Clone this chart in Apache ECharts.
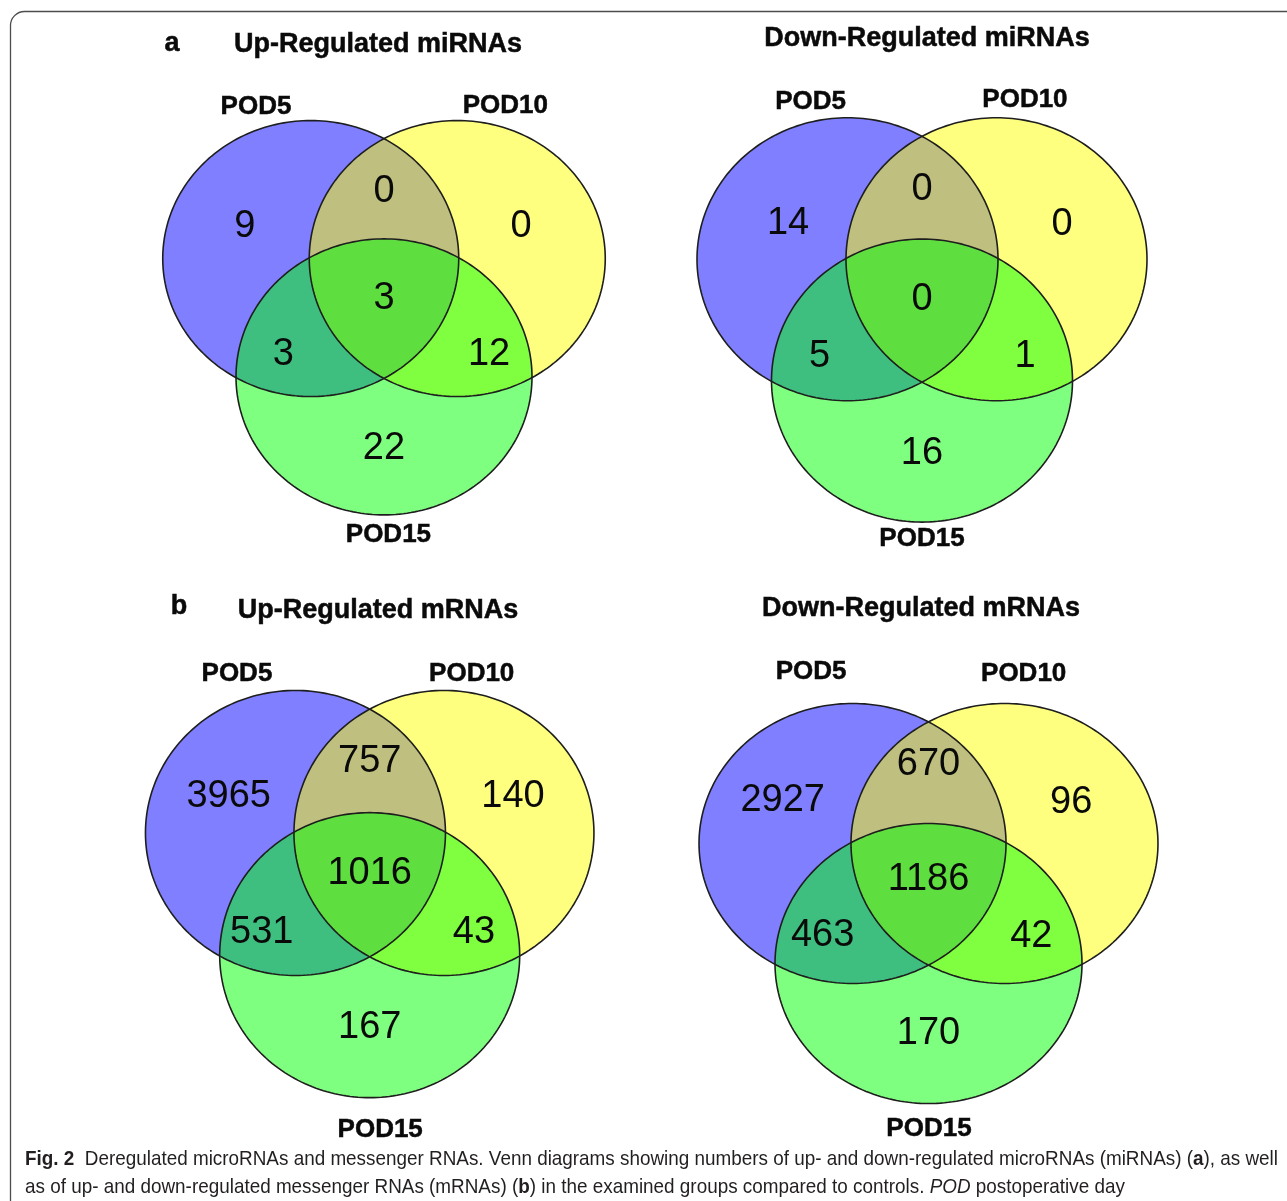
<!DOCTYPE html>
<html>
<head>
<meta charset="utf-8">
<script src="https://cdn.jsdelivr.net/npm/echarts@6/dist/echarts.min.js"></script>
<style>
  html, body { margin: 0; padding: 0; background: #ffffff; }
  #chart { width: 1287px; height: 1201px; }
</style>
</head>
<body>
<div id="chart"></div>
<script>
// ---- data ----
const setNames = ['POD5', 'POD10', 'POD15'];
const panelTitles = ['Up-Regulated miRNAs', 'Down-Regulated miRNAs', 'Up-Regulated mRNAs', 'Down-Regulated mRNAs'];
const panelLetters = ['a', '', 'b', ''];
// region counts, order: POD5 only, POD10 only, POD15 only,
// POD5∩POD10, POD5∩POD15, POD10∩POD15, all three
const upMiRNAs   = [9, 0, 22, 0, 3, 12, 3];
const downMiRNAs = [14, 0, 16, 0, 5, 1, 0];
const upMRNAs    = [3965, 140, 167, 757, 531, 43, 1016];
const downMRNAs  = [2927, 96, 170, 670, 463, 42, 1186];
const panelCounts = [upMiRNAs, downMiRNAs, upMRNAs, downMRNAs];

// ---- layout (unit space: circle radius = 1, y grows downward) ----
const side = 0.99;                       // distance between circle centres
const circleCentres = [
  [-side / 2, -side * Math.sqrt(3) / 6],
  [ side / 2, -side * Math.sqrt(3) / 6],
  [0,          side * Math.sqrt(3) / 3]
];
const fills = ['rgba(0,0,255,0.5)', 'rgba(255,255,0,0.5)', 'rgba(0,255,0,0.5)'];

const panels = [
  { cx: 384, cy: 298, rx: 148, ry: 138, title: [378, 45], letter: [172, 44],
    regions: [[-0.94,-0.52],[0.926,-0.52],[0,1.09],[0,-0.775],[-0.68,0.41],[0.71,0.41],[0,0.007]],
    names: [[-0.865,-1.385],[0.82,-1.395],[0.03,1.715]] },
  { cx: 922, cy: 299.7, rx: 150.5, ry: 141.5, title: [927, 39], letter: null,
    regions: [[-0.89,-0.535],[0.93,-0.53],[0,1.087],[0,-0.78],[-0.68,0.405],[0.684,0.405],[0,0]],
    names: [[-0.74,-1.40],[0.684,-1.415],[0,1.69]] },
  { cx: 369.7, cy: 873.7, rx: 150, ry: 142.5, title: [378, 611], letter: [179, 607],
    regions: [[-0.94,-0.54],[0.955,-0.54],[0,1.076],[0,-0.79],[-0.72,0.41],[0.695,0.41],[0,0]],
    names: [[-0.885,-1.405],[0.68,-1.405],[0.07,1.795]] },
  { cx: 928.5, cy: 883.5, rx: 153.5, ry: 140, title: [921, 609], letter: null,
    regions: [[-0.95,-0.59],[0.93,-0.58],[0,1.075],[0,-0.85],[-0.69,0.37],[0.67,0.38],[0,-0.025]],
    names: [[-0.765,-1.51],[0.62,-1.495],[0.003,1.755]] }
];

const SANS = '"Liberation Sans", Arial, Helvetica, sans-serif';

// ---- render helpers ----
function ellipsePoints(api, cx, cy, r) {
  const pts = [];
  const n = 240;
  for (let i = 0; i < n; i++) {
    const t = (i / n) * Math.PI * 2;
    pts.push(api.coord([cx + r * Math.cos(t), cy + r * Math.sin(t)]));
  }
  return pts;
}

function fillItem(params, api) {
  const k = api.value(3);
  return {
    type: 'polygon',
    shape: { points: ellipsePoints(api, api.value(0), api.value(1), api.value(2)) },
    style: { fill: fills[k], stroke: null }
  };
}

function outlineItem(params, api) {
  return {
    type: 'polygon',
    shape: { points: ellipsePoints(api, api.value(0), api.value(1), api.value(2)) },
    style: { fill: null, stroke: '#1e1e1e', lineWidth: 1.6 }
  };
}

function countItem(params, api) {
  const p = api.coord([api.value(0), api.value(1)]);
  return {
    type: 'text', x: p[0], y: p[1],
    style: {
      text: String(api.value(2)), fontSize: 38, fontFamily: SANS, fill: '#0a0a0a',
      align: 'center', verticalAlign: 'middle', textAlign: 'center', textVerticalAlign: 'middle'
    }
  };
}

function nameItem(params, api) {
  const p = api.coord([api.value(0), api.value(1)]);
  return {
    type: 'text', x: p[0], y: p[1],
    style: {
      text: setNames[api.value(2)], fontSize: 26, fontWeight: 'bold', fontFamily: SANS, fill: '#0a0a0a',
      stroke: '#0a0a0a', lineWidth: 0.5,
      align: 'center', verticalAlign: 'middle', textAlign: 'center', textVerticalAlign: 'middle'
    }
  };
}

// ---- build option ----
const grid = [], xAxis = [], yAxis = [], series = [], graphics = [];

panels.forEach((pn, i) => {
  grid.push({ left: pn.cx - 2 * pn.rx, top: pn.cy - 2 * pn.ry, width: 4 * pn.rx, height: 4 * pn.ry });
  xAxis.push({ type: 'value', gridIndex: i, min: -2, max: 2, show: false });
  yAxis.push({ type: 'value', gridIndex: i, min: -2, max: 2, inverse: true, show: false });

  const circles = circleCentres.map((c, k) => [c[0], c[1], 1, k]);
  series.push({ type: 'custom', xAxisIndex: i, yAxisIndex: i, renderItem: fillItem, data: circles, z: 1, silent: true });
  series.push({ type: 'custom', xAxisIndex: i, yAxisIndex: i, renderItem: outlineItem, data: circles, z: 2, silent: true });

  const counts = panelCounts[i].map((v, r) => [pn.regions[r][0], pn.regions[r][1], v]);
  series.push({ type: 'custom', xAxisIndex: i, yAxisIndex: i, renderItem: countItem, data: counts, z: 3, silent: true });

  const names = setNames.map((s, k) => [pn.names[k][0], pn.names[k][1], k]);
  series.push({ type: 'custom', xAxisIndex: i, yAxisIndex: i, renderItem: nameItem, data: names, z: 3, silent: true });

  graphics.push({
    type: 'text', x: pn.title[0], y: pn.title[1],
    style: { text: panelTitles[i], font: 'bold 27px ' + SANS, fill: '#0a0a0a',
             stroke: '#0a0a0a', lineWidth: 0.5,
             textAlign: 'center', textVerticalAlign: 'middle', align: 'center', verticalAlign: 'middle' }
  });
  if (panelLetters[i]) {
    graphics.push({
      type: 'text', x: pn.letter[0], y: pn.letter[1],
      style: { text: panelLetters[i], font: 'bold 27px ' + SANS, fill: '#0a0a0a',
               stroke: '#0a0a0a', lineWidth: 0.5,
               textAlign: 'center', textVerticalAlign: 'middle', align: 'center', verticalAlign: 'middle' }
    });
  }
});

// rounded figure frame
graphics.push({
  type: 'rect', z: -1,
  shape: { x: 10.5, y: 11.5, width: 1300, height: 1240, r: 14 },
  style: { fill: 'none', stroke: '#4d4d4d', lineWidth: 1.3 }
});

// caption: two lines, narrowed horizontally to span the figure width
const CAP = SANS;
const capSize = 21;
const captionParts = [
  [['b', 'Fig. 2'], ['', '  Deregulated microRNAs and messenger RNAs. Venn diagrams showing numbers of up- and down-regulated microRNAs (miRNAs) ('], ['b', 'a'], ['', '), as well']],
  [['', 'as of up- and down-regulated messenger RNAs (mRNAs) ('], ['b', 'b'], ['', ') in the examined groups compared to controls. '], ['i', 'POD'], ['', ' postoperative day']]
];
const measureCtx = document.createElement('canvas').getContext('2d');
function partFont(kind) {
  return (kind === 'b' ? 'bold ' : kind === 'i' ? 'italic ' : '') + capSize + 'px ' + CAP;
}
function lineWidth(parts) {
  return parts.reduce((w, p) => { measureCtx.font = partFont(p[0]); return w + measureCtx.measureText(p[1]).width; }, 0);
}
const capLeft = 25, capRight = 1278;
const capScale = (capRight - capLeft) / lineWidth(captionParts[0]);

captionParts.forEach((parts, j) => {
  const text = parts.map(p => p[0] ? '{' + p[0] + '|' + p[1] + '}' : p[1]).join('');
  graphics.push({
    type: 'text', x: capLeft, y: 1159 + j * 28, scaleX: capScale,
    style: {
      text: text, fontSize: capSize, fontFamily: CAP, fill: '#231f20',
      textAlign: 'left', textVerticalAlign: 'middle', align: 'left', verticalAlign: 'middle',
      rich: {
        b: { fontSize: capSize, fontFamily: CAP, fontWeight: 'bold', fill: '#231f20' },
        i: { fontSize: capSize, fontFamily: CAP, fontStyle: 'italic', fill: '#231f20' }
      }
    }
  });
});

const chart = echarts.init(document.getElementById('chart'), null, { renderer: 'canvas' });
chart.setOption({
  backgroundColor: '#ffffff',
  animation: false,
  grid, xAxis, yAxis, series,
  graphic: { elements: graphics }
});
</script>
</body>
</html>
